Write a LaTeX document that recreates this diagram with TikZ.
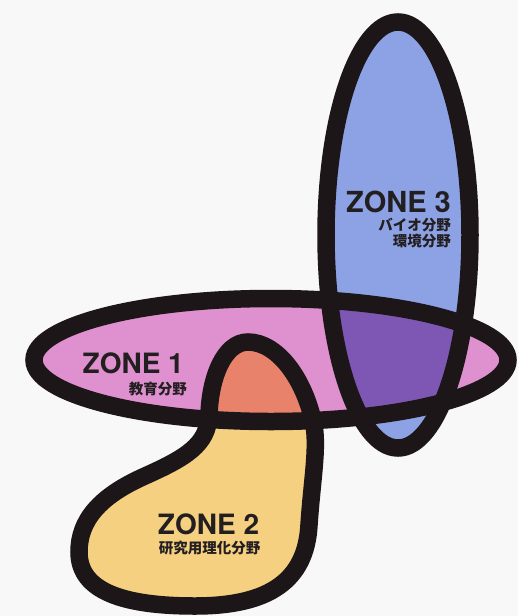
\documentclass[tikz,border=0pt]{standalone}
\usepackage{fontspec}
\newfontfamily\zonefont{TeX Gyre Heros}
\newfontfamily\jpfont{Noto Sans CJK JP}
\definecolor{zpink}{HTML}{DF90CE}
\definecolor{zblue}{HTML}{8DA2E4}
\definecolor{zyellow}{HTML}{F5D081}
\definecolor{zorange}{HTML}{E8826A}
\definecolor{zpurple}{HTML}{7E56B3}
\definecolor{zink}{HTML}{1C1618}
\definecolor{ztext}{HTML}{231F20}
\definecolor{zbg}{HTML}{F8F8F9}
\tikzset{
  outline/.style={draw=zink, line width=17.5pt},
  zonetitle/.style={inner sep=0pt, text=ztext, font=\zonefont\bfseries\fontsize{29}{29}\selectfont},
  zonesub/.style={inner sep=0pt, text=ztext, font=\jpfont\bfseries\fontsize{14.5}{14.5}\selectfont},
}
\begin{document}
\begin{tikzpicture}[x=1pt,y=-1pt]
\useasboundingbox (0,0) rectangle (518,616);
\fill[zbg] (0,0) rectangle (518,616);
\def\zoneone{(271,360) ellipse [x radius=237, y radius=61.5]}
\def\zonethree{(398,235) ellipse [x radius=72, y radius=213]}
\def\zonetwo{(248,342) .. controls (224,342) and (210,378) .. (209,415)
  .. controls (208,445) and (185,458) .. (145,476)
  .. controls (100,496) and (79,520) .. (79,552)
  .. controls (79,592) and (125,606) .. (195,606)
  .. controls (270,606) and (306,580) .. (309,525)
  .. controls (312,480) and (318,450) .. (314,425)
  .. controls (305,380) and (278,342) .. (248,342) -- cycle}
% fills
\fill[zpink] \zoneone;
\fill[zblue] \zonethree;
\fill[zyellow] \zonetwo;
\begin{scope}
  \clip \zoneone;
  \fill[zorange] \zonetwo;
  \fill[zpurple] \zonethree;
\end{scope}
% outlines
\draw[outline] \zoneone;
\draw[outline] \zonethree;
\draw[outline] \zonetwo;
% labels
\node[zonetitle, anchor=base east] (t3) at (451,212) {ZONE 3};
\node[zonesub, anchor=base east] (s3a) at (451,230.5) {バイオ分野};
\node[zonesub, anchor=base east] (s3b) at (451,246.5) {環境分野};
\node[zonetitle, font=\zonefont\bfseries\fontsize{28}{28}\selectfont, anchor=base east] (t1) at (184,373) {ZONE 1};
\node[zonesub, anchor=base east] (s1) at (187,394) {教育分野};
\node[zonetitle, font=\zonefont\bfseries\fontsize{28}{28}\selectfont, anchor=base] (t2) at (208.5,534) {ZONE 2};
\node[zonesub, font=\jpfont\bfseries\fontsize{14.5}{14.5}\selectfont, anchor=base] (s2) at (209.5,553.5) {研究用理化分野};
\end{tikzpicture}
\end{document}
